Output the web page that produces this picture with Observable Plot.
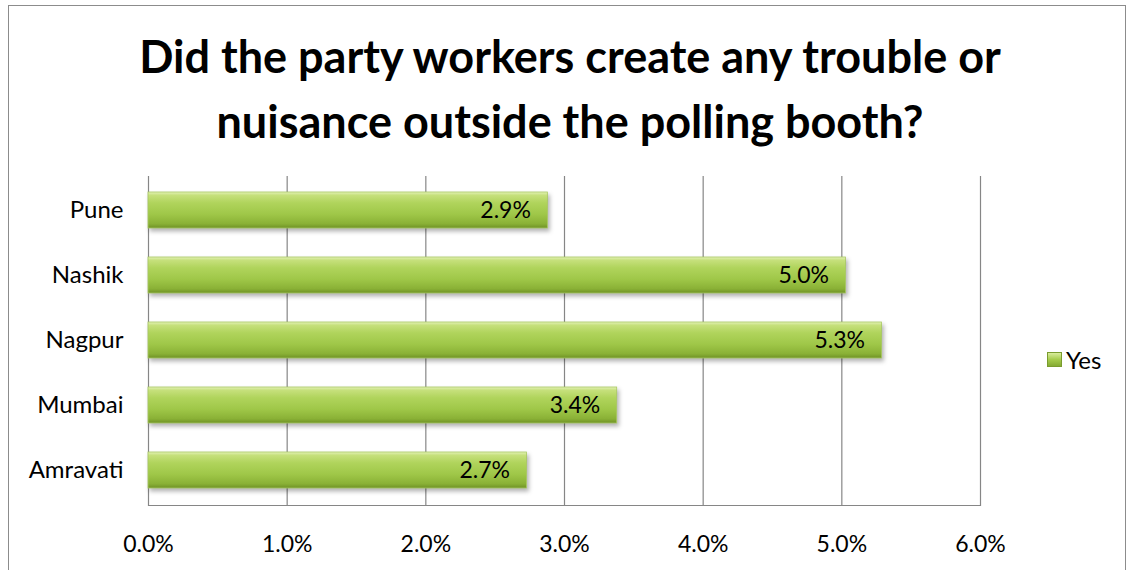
<!DOCTYPE html>
<html><head><meta charset="utf-8">
<script src="https://cdn.jsdelivr.net/npm/d3@7"></script>
<script src="https://cdn.jsdelivr.net/npm/@observablehq/plot@0.6"></script>
<style>
html,body{margin:0;padding:0;background:#fff;}
#wrap{position:relative;width:1130px;height:570px;overflow:hidden;font-family:Lato,"Open Sans",sans-serif;}
#frame{position:absolute;left:8px;top:5px;width:1118px;height:580px;border:1px solid #8c8c8c;box-sizing:border-box;}
#title{position:absolute;left:0;top:24px;width:1140px;text-align:center;font-weight:bold;font-size:45px;line-height:65px;color:#000;}
#legend{position:absolute;left:1047px;top:345px;font-size:24px;display:flex;align-items:center;color:#000;}
#legend .sw{width:15px;height:15px;background:linear-gradient(#d9ec9c,#a6cc4c 50%,#85aa33);border:1px solid #7a9c2e;box-sizing:border-box;margin-right:4px;}
</style></head>
<body>
<div id="wrap">
<div id="frame"></div>
<div id="chart"></div>
<div id="title">Did the party workers create any trouble or<br>nuisance outside the polling booth?</div>
<div id="legend"><div class="sw"></div><span>Yes</span></div>
</div>
<script>
const cities = ["Pune", "Nashik", "Nagpur", "Mumbai", "Amravati"];
const yes = [2.88, 5.03, 5.29, 3.38, 2.73];
const xTicks = [0, 1, 2, 3, 4, 5, 6];

const data = cities.map((c, i) => ({city: c, value: yes[i]}));

const chart = Plot.plot({
  width: 1130,
  height: 570,
  marginLeft: 148,
  marginRight: 150,
  marginTop: 176,
  marginBottom: 65,
  style: {fontFamily: "Lato, 'Open Sans', sans-serif", fontSize: "23px", color: "#000", background: "transparent"},
  x: {domain: [0, 6], ticks: xTicks, tickFormat: d => d.toFixed(1) + "%", label: null, tickSize: 0, tickPadding: 30},
  y: {domain: cities, label: null, tickSize: 0, tickPadding: 25, paddingInner: 0.44, paddingOuter: 0.22},
  marks: [
    Plot.ruleX(xTicks, {stroke: "#868686", strokeWidth: 1.2}),
    Plot.frame({anchor: "bottom", stroke: "#868686", strokeWidth: 1.2}),
    Plot.axisY({tickSize: 0, tickPadding: 25, fontSize: 24, label: null}),
    Plot.barX(data, {x: "value", y: "city", fill: "url(#barGrad)", stroke: "#a9c961", strokeWidth: 0.8}),
    Plot.text(data, {x: "value", y: "city", text: d => d.value.toFixed(1) + "%", textAnchor: "end", dx: -17, fontSize: 23, fill: "#000"})
  ]
});
const defs = d3.select(chart).insert("defs", ":first-child");
const g = defs.append("linearGradient").attr("id", "barGrad").attr("x1", 0).attr("y1", 0).attr("x2", 0).attr("y2", 1);
[["0%", "#e4f2b8"], ["9%", "#c6e07c"], ["30%", "#b0d45c"], ["62%", "#9fc748"], ["88%", "#8ab136"], ["100%", "#6f9226"]].forEach(([o, c]) => g.append("stop").attr("offset", o).attr("stop-color", c));
d3.select(chart).selectAll("rect").attr("style", "filter: drop-shadow(2px 3px 2px rgba(0,0,0,0.3))");
document.getElementById("chart").appendChild(chart);
</script>
</body></html>
